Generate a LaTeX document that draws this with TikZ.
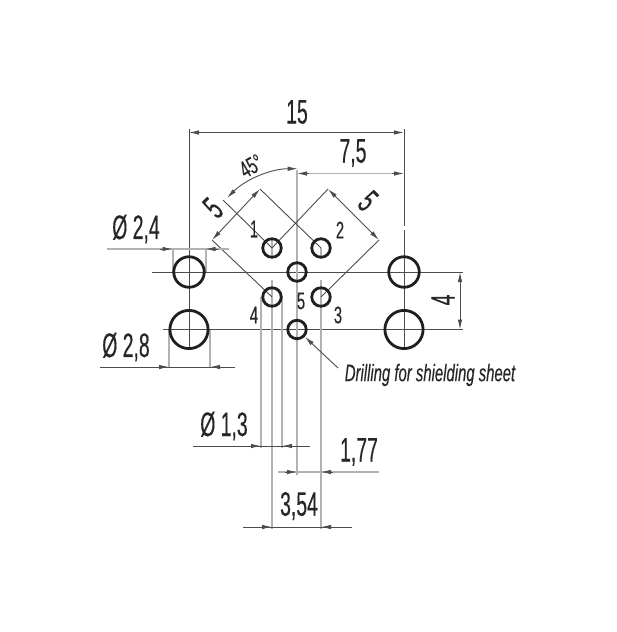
\documentclass[tikz,border=0pt]{standalone}
\usepackage{fontspec}
\usepackage{tikz}
\usetikzlibrary{arrows.meta,calc,positioning}
\newfontfamily\dimfont[FakeStretch=0.57,FakeBold=0.3]{Liberation Sans}
\newfontfamily\pinfont[FakeStretch=0.62,FakeBold=0.2]{Liberation Sans}
\newfontfamily\dimslant[FakeStretch=0.62,FakeBold=0.2]{Liberation Sans Italic}
\newcommand{\dimsize}{\fontsize{34}{34}\selectfont\dimfont}
\newcommand{\pinsize}{\fontsize{24}{24}\selectfont\pinfont}
\colorlet{thin}{black!70}
\colorlet{pale}{black!30}
\tikzset{
  tip/.tip={Latex[length=10pt,width=4.5pt]},
  hole/.style={circle,draw=black!88,line width=2.8pt,inner sep=0pt,fill=none},
  pinhole/.style={hole,minimum size=18.5pt},
  dimlabel/.style={inner sep=0pt,text=black!85,font=\dimsize},
  pinlabel/.style={inner sep=0pt,text=black!85,font=\pinsize},
  fine/.style={draw=thin,line width=.9pt},
  ext/.style={draw=pale,line width=2pt},
}
\begin{document}
\begin{tikzpicture}[x=1pt,y=-1pt]
  \useasboundingbox (0,0) rectangle (616,632);
  % hole centres
  \coordinate (c1) at (272,248);
  \coordinate (c2) at (321,248);
  \coordinate (c3) at (321,297);
  \coordinate (c4) at (272,297);
  \coordinate (c5) at (297,272);
  \coordinate (c6) at (297,329.5);
  \coordinate (ul) at (189,272);
  \coordinate (ur) at (404,272);
  \coordinate (ll) at (189,329.5);
  \coordinate (lr) at (404,329.5);
  % centre lines
  \draw[fine] (152,272) -- (463,272);
  \draw[fine] (163,329.5) -- (463,329.5);
  \draw[fine] (189,129) -- (189,350);
  \draw[fine] (404,129) -- (404,226);
  \draw[fine] (404,230) -- (404,350);
  % pale extension lines
  \draw[ext] (297,170) -- (297,475);
  \draw[ext] (272,280) -- (272,529);
  \draw[ext] (321,280) -- (321,529);
  \draw[ext] (272,238) -- (272,258);
  \draw[ext] (321,248) -- (321,258);
  \draw[ext] (261,297) -- (261,448);
  \draw[ext] (282,297) -- (282,448);
  \draw[ext] (172.5,249) -- (172.5,272);
  \draw[ext] (205.5,249) -- (205.5,272);
  \draw[ext] (169,329.5) -- (169,367);
  \draw[ext] (210,329.5) -- (210,367);
  % square of the pin circle
  \draw[fine] (260,189) -- (c2);
  \draw[fine] (328,189) -- (c1);
  \draw[fine] (212,240) -- (c4);
  \draw[fine] (379,240) -- (c3);
  \draw[fine] (223,200) -- (c1);
  % holes
  \node[pinhole] (pin1) at (c1) {};
  \node[pinhole] (pin2) at (c2) {};
  \node[pinhole] (pin3) at (c3) {};
  \node[pinhole] (pin4) at (c4) {};
  \node[pinhole] (pin5) at (c5) {};
  \node[pinhole] (drill) at (c6) {};
  \node[hole,minimum size=30.5pt] (upleft) at (ul) {};
  \node[hole,minimum size=30.5pt] (upright) at (ur) {};
  \node[hole,minimum size=38.2pt] (lowleft) at (ll) {};
  \node[hole,minimum size=38.2pt] (lowright) at (lr) {};
  % dimension 15 and 7,5
  \draw[fine,{tip}-{tip}] (189,132.5) -- (404,132.5);
  \node[dimlabel] (l15) at (297,112) {15};
  \draw[ext,line width=1.6pt] (307,173.5) -- (394,173.5);
  \draw[fine,-{tip}] (392,173.5) -- (404,173.5);
  \draw[fine,-{tip}] (309,173.5) -- (297,173.5);
  \node[dimlabel] (l75) at (353,153) {7,5};
  % angle
  \draw[fine,{tip}-{tip}] (227,198) arc[start angle=225,end angle=270,radius=100] ;
  \node[pinlabel,rotate=30] (l45) at (251,166) {45°};
  % dimensions 5
  \draw[fine,{tip}-{tip}] (260,189) -- (212,240);
  \draw[fine,{tip}-{tip}] (328,189) -- (379,240);
  \node[dimlabel,rotate=45] (l5a) at (213,208) {5};
  \node[dimlabel,rotate=-45] (l5b) at (368,201) {5};
  % diameter 2,4
  \draw[ext,line width=1.6pt] (107,249) -- (229,249);
  \draw[fine,-{tip}] (160,249) -- (172.5,249);
  \draw[fine,-{tip}] (218,249) -- (205.5,249);
  \node[dimlabel] (d24) at (136,229) {Ø 2,4};
  % diameter 2,8
  \draw[fine] (100,367) -- (235,367);
  \draw[fine,-{tip}] (157,367) -- (169,367);
  \draw[fine,-{tip}] (222,367) -- (210,367);
  \node[dimlabel] (d28) at (126,347) {Ø 2,8};
  % dimension 4
  \draw[fine,{tip}-{tip}] (460,272) -- (460,329.5);
  \node[dimlabel,rotate=90] (l4) at (443,300) {4};
  % diameter 1,3
  \draw[fine] (193,446) -- (310,446);
  \draw[fine,-{tip}] (249,446) -- (261,446);
  \draw[fine,-{tip}] (294,446) -- (282,446);
  \node[dimlabel] (d13) at (224,426) {Ø 1,3};
  % dimension 1,77
  \draw[ext,line width=1.6pt] (278,472) -- (379,472);
  \draw[fine,-{tip}] (285,472) -- (297,472);
  \draw[fine,-{tip}] (333,472) -- (321,472);
  \node[dimlabel] (l177) at (359,452) {1,77};
  % dimension 3,54
  \draw[fine] (243,527) -- (352,527);
  \draw[fine,-{tip}] (260,527) -- (272,527);
  \draw[fine,-{tip}] (333,527) -- (321,527);
  \node[dimlabel] (l354) at (299,506) {3,54};
  % pin numbers
  \node[pinlabel] (n1) at (254,229) {1};
  \node[pinlabel] (n2) at (340,230) {2};
  \node[pinlabel] (n3) at (338,315) {3};
  \node[pinlabel] (n4) at (254,315) {4};
  \node[pinlabel] (n5) at (301,301) {5};
  % drilling note
  \coordinate (leader) at (338,368);
  \draw[fine,-{tip}] (leader) -- (drill);
  \node[inner sep=0pt,text=black!85,font=\fontsize{24}{24}\selectfont\dimslant] (note) at (430,375) {Drilling for shielding sheet};
\end{tikzpicture}
\end{document}
